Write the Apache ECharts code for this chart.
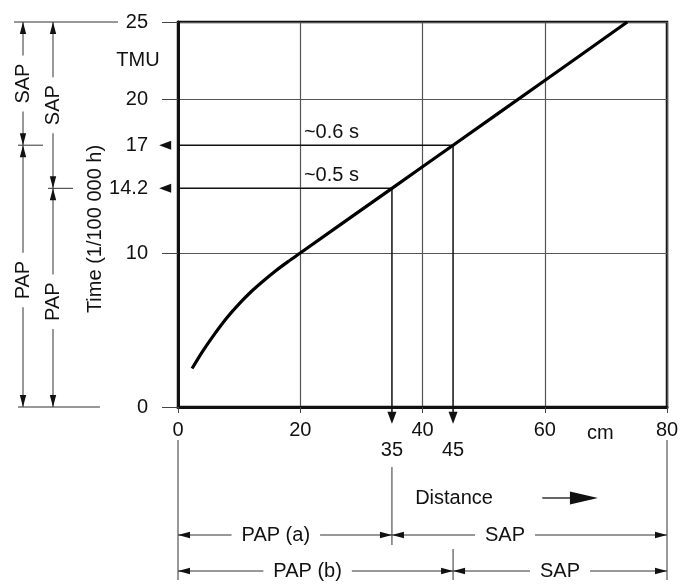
<!DOCTYPE html>
<html>
<head>
<meta charset="utf-8">
<script src="https://cdn.jsdelivr.net/npm/echarts@6/dist/echarts.min.js"></script>
<style>
  html, body { margin: 0; padding: 0; background: #fff; }
  #chart { width: 683px; height: 586px; }
</style>
</head>
<body>
<div id="chart"></div>
<script>
// reach time curve (distance in cm -> TMU)
const distance = [2.3, 4, 6, 8, 10, 12, 14, 16, 18, 20, 35, 45, 60, 73.5]
const tmu = [2.5, 3.6, 4.75, 5.8, 6.7, 7.5, 8.2, 8.85, 9.44, 10, 14.2, 17, 21.2, 25]
const xTicks = [0, 20, 40, 60, 80]
const yTicks = [0, 10, 20, 25]
// the two read-off examples
const readX = [35, 45]
const readY = [14.2, 17]
const readText = ['~0.5 s', '~0.6 s']

const FONT = '"Liberation Sans", Arial, sans-serif'
const INK = '#111'

const chart = echarts.init(document.getElementById('chart'))

// annotation lines: curve -> y axis, curve -> below x axis (arrow at the far end)
const readSeries = []
readX.forEach((x, i) => {
  const y = readY[i]
  const common = {
    type: 'line',
    clip: false,
    silent: true,
    animation: false,
    symbol: (v, p) => (p.dataIndex === 1 ? 'triangle' : 'none'),
    symbolSize: [9, 12],
    lineStyle: { color: INK, width: 1.5 },
    itemStyle: { color: INK },
    z: 3
  }
  readSeries.push({ ...common, symbolRotate: 90, data: [[x, y], [-2.1, y]] })
  readSeries.push({ ...common, symbolRotate: 180, data: [[x, y], [x, -0.7]] })
})

const option = {
  animation: false,
  grid: {
    left: 178, right: 16, top: 22, bottom: 179,
    show: true, borderColor: INK, borderWidth: 2.5
  },
  xAxis: [
    {
      type: 'value', min: 0, max: 80, interval: 20,
      axisLine: { lineStyle: { color: INK, width: 3 } },
      axisTick: { show: true, length: 6, customValues: xTicks, lineStyle: { color: '#444' } },
      axisLabel: { customValues: xTicks, margin: 13, color: INK, fontSize: 20, fontFamily: FONT },
      splitLine: { show: true, lineStyle: { color: '#555', width: 1.2 } }
    },
    {
      type: 'value', min: 0, max: 80, position: 'bottom',
      axisLine: { show: false },
      axisTick: { show: false },
      splitLine: { show: false },
      axisLabel: { customValues: readX, margin: 33, color: INK, fontSize: 20, fontFamily: FONT }
    }
  ],
  yAxis: {
    type: 'value', min: 0, max: 25, interval: 10,
    axisLine: { show: true, lineStyle: { color: INK, width: 3 } },
    axisTick: { show: true, length: 16, customValues: yTicks, lineStyle: { color: '#444' } },
    axisLabel: { customValues: yTicks.concat(readY), margin: 30, color: INK, fontSize: 20, fontFamily: FONT },
    splitLine: { show: true, lineStyle: { color: '#555', width: 1.2 } }
  },
  series: [
    {
      type: 'line',
      data: distance.map((d, i) => [d, tmu[i]]),
      smooth: 0.3,
      symbol: 'none',
      silent: true,
      lineStyle: { color: '#000', width: 3.2 },
      z: 4
    },
    ...readSeries
  ]
}
chart.setOption(option)

// ---- drawing aids outside the plot (dimension lines, titles) ----
const px = (x, y) => chart.convertToPixel({ gridIndex: 0 }, [x, y])
const ln = (x1, y1, x2, y2, w = 1) => ({
  type: 'line', silent: true, shape: { x1, y1, x2, y2 }, style: { stroke: '#333', lineWidth: w }
})
const arrow = (x, y, dir, len = 12, hw = 3.2) => {
  const d = { up: [0, 1], down: [0, -1], left: [1, 0], right: [-1, 0] }[dir]
  const bx = x + d[0] * len, by = y + d[1] * len
  const nx = -d[1] * hw, ny = d[0] * hw
  return {
    type: 'polygon', silent: true,
    shape: { points: [[x, y], [bx + nx, by + ny], [bx - nx, by - ny]] },
    style: { fill: INK }
  }
}
const txt = (x, y, text, extra = {}) => ({
  type: 'text', silent: true, x, y, rotation: extra.rotation || 0, z: 10,
  style: {
    text, font: (extra.size || 20) + 'px ' + FONT, fill: INK,
    align: extra.align || 'center', verticalAlign: 'middle',
    backgroundColor: extra.bg, padding: extra.pad
  }
})

const g = []
const axisX = px(0, 0)[0]
const yTop = px(0, 25)[1]
const yBot = px(0, 0)[1]

// axis titles
g.push(txt(axisX - 40, px(0, 22.5)[1], 'TMU'))
g.push(txt(axisX - 83, 229, 'Time (1/100 000 h)', { rotation: Math.PI / 2 }))
g.push(txt(px(69.1, 0)[0], yBot + 26, 'cm'))

// read-off labels
readY.forEach((y, i) => {
  g.push(txt(px(20.6, y)[0], px(0, y)[1] - 13, readText[i], { align: 'left' }))
})

// left: SAP / PAP split of the time range
g.push(ln(14, yTop, axisX - 60, yTop))
g.push(ln(18, yBot, axisX - 78, yBot))
const cols = [{ x: 23, split: readY[1] }, { x: 53, split: readY[0] }]
cols.forEach(c => {
  const ys = px(0, c.split)[1]
  g.push(ln(c.x, yTop, c.x, yBot))
  g.push(arrow(c.x, yTop, 'up'), arrow(c.x, yBot, 'down'))
  g.push(arrow(c.x, ys, 'down'), arrow(c.x, ys, 'up'))
  g.push(ln(c.x - 5, ys, c.x + 20, ys))
  g.push(txt(c.x, (yTop + ys) / 2, 'SAP', { rotation: Math.PI / 2, bg: '#fff', pad: [0, 8] }))
  g.push(txt(c.x, (ys + yBot) / 2 + 4, 'PAP', { rotation: Math.PI / 2, bg: '#fff', pad: [0, 8] }))
})

// bottom: PAP / SAP split of the distance range
const x0 = px(0, 0)[0]
const x80 = px(80, 0)[0]
const xa = px(readX[0], 0)[0]
const xb = px(readX[1], 0)[0]
const yA = yBot + 128
const yB = yBot + 164
g.push(ln(x0, yBot + 33, x0, yBot + 173), ln(x80, yBot + 33, x80, yBot + 173))
g.push(ln(xa, yBot + 60, xa, yA + 10), ln(xb, yA + 14, xb, yB + 9))
g.push(ln(x0, yA, x80, yA), ln(x0, yB, x80, yB))
g.push(arrow(x0, yA, 'left'), arrow(xa, yA, 'right'), arrow(xa, yA, 'left'), arrow(x80, yA, 'right'))
g.push(arrow(x0, yB, 'left'), arrow(xb, yB, 'right'), arrow(xb, yB, 'left'), arrow(x80, yB, 'right'))
g.push(txt(px(16, 0)[0], yA, 'PAP (a)', { bg: '#fff', pad: [0, 10] }))
g.push(txt(px(53.5, 0)[0], yA, 'SAP', { bg: '#fff', pad: [0, 10] }))
g.push(txt(px(21.2, 0)[0], yB, 'PAP (b)', { bg: '#fff', pad: [0, 10] }))
g.push(txt(px(62.5, 0)[0], yB, 'SAP', { bg: '#fff', pad: [0, 10] }))

// "Distance ->"
g.push(txt(px(38.8, 0)[0], yBot + 91, 'Distance', { align: 'left' }))
g.push(ln(px(59.6, 0)[0], yBot + 91, px(64.5, 0)[0], yBot + 91, 1.5))
g.push(arrow(px(68.7, 0)[0], yBot + 91, 'right', 28, 6.5))

chart.setOption({ graphic: { elements: g } })
</script>
</body>
</html>
